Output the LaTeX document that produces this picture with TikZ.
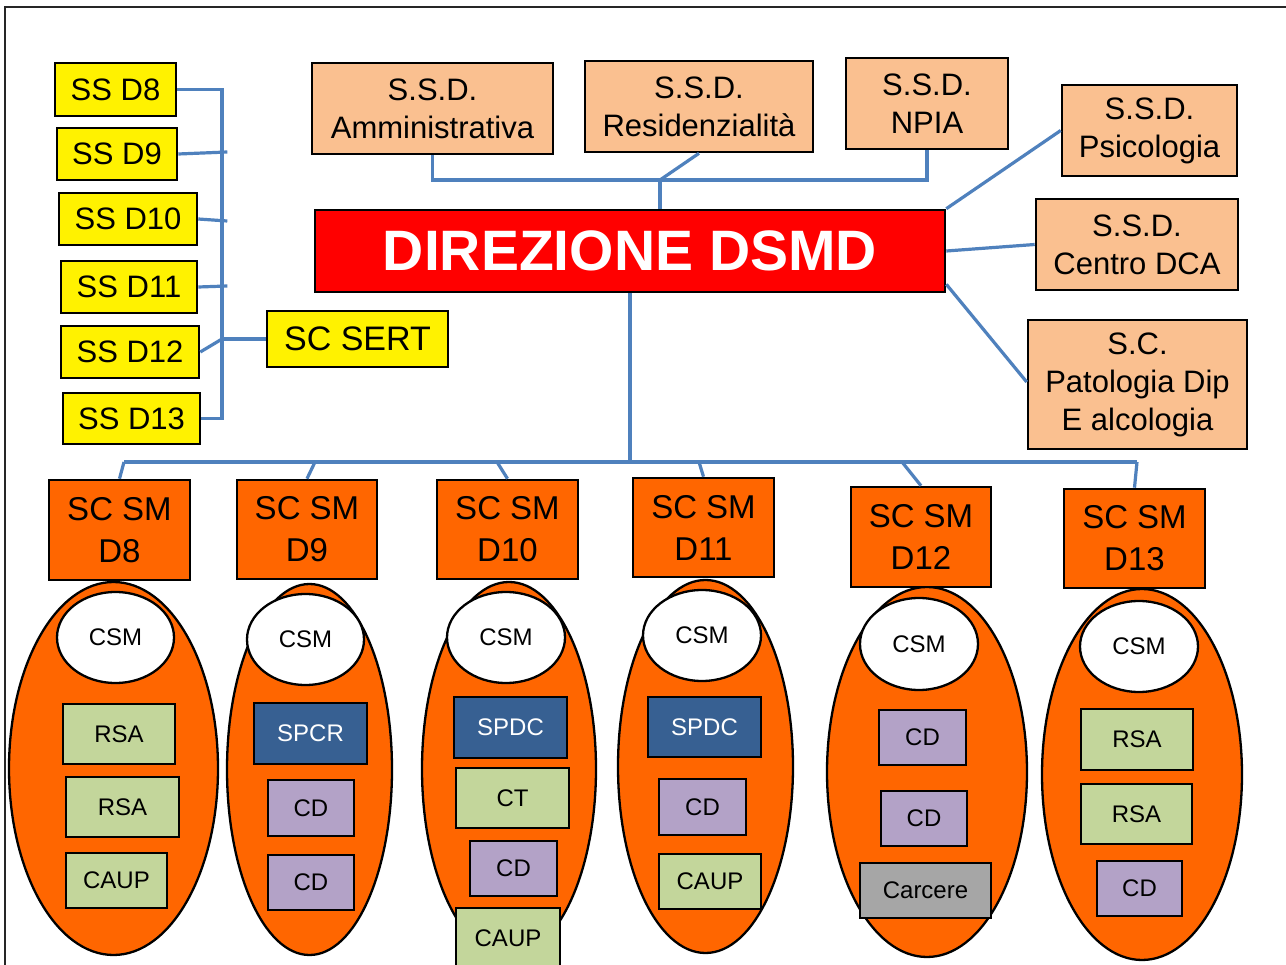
\documentclass[tikz,border=0pt]{standalone}
\usepackage{fontspec}
\setmainfont{Liberation Sans}
\usetikzlibrary{shapes.geometric}
\definecolor{peachc}{HTML}{FAC090}
\definecolor{orangec}{HTML}{FF6600}
\definecolor{greenc}{HTML}{C3D69B}
\definecolor{bluec}{HTML}{376092}
\definecolor{purplec}{HTML}{B3A2C7}
\definecolor{grayc}{HTML}{A6A6A6}
\definecolor{linkc}{HTML}{4F81BD}
\begin{document}
\begin{tikzpicture}[x=1pt,y=-1pt,
 bx/.style={draw=black, line width=2.6pt, inner sep=0pt, align=center},
 yel/.style={bx, fill=yellow, font=\fontsize{31}{36}\selectfont},
 peach/.style={bx, fill=peachc, font=\fontsize{31}{38}\selectfont},
 scsm/.style={bx, fill=orangec, font=\fontsize{33}{42}\selectfont},
 big/.style={ellipse, draw=black, line width=2.3pt, fill=orangec, inner sep=0pt},
 csm/.style={ellipse, draw=black, line width=2.3pt, fill=white, inner sep=0pt, font=\fontsize{24}{28}\selectfont},
 sm/.style={bx, line width=2.3pt, font=\fontsize{24}{28}\selectfont},
 grn/.style={sm, fill=greenc},
 blu/.style={sm, fill=bluec, text=white},
 pur/.style={sm, fill=purplec},
 gry/.style={sm, fill=grayc},
 link/.style={draw=linkc, line width=3.2pt},
 wh/.style 2 args={minimum width=#1pt, minimum height=#2pt}
]
\useasboundingbox (0,0) rectangle (1286,965);
\fill[white] (0,0) rectangle (1286,965);
\draw[line width=2pt, black!85] (5,965) -- (5,7) -- (1286,7);

% yellow SS boxes
\node[yel, wh={121}{53}] (d8) at (115.5,89.5) {SS D8};
\node[yel, wh={120}{52}] (d9) at (117,154) {SS D9};
\node[yel, wh={138}{52}] (d10) at (128,219) {SS D10};
\node[yel, wh={136}{52}] (d11) at (129,287) {SS D11};
\node[yel, wh={138}{52}] (d12) at (130,352) {SS D12};
\node[yel, wh={137}{51}] (d13) at (131.5,418.5) {SS D13};
\node[yel, wh={181}{56}, font=\fontsize{34}{40}\selectfont] (sert) at (357.5,339) {SC SERT};

% peach boxes
\node[peach, wh={241}{91}] (amm) at (432.5,108.5) {S.S.D.\\Amministrativa};
\node[peach, wh={228}{91}] (res) at (699,106.5) {S.S.D.\\Residenzialità};
\node[peach, wh={162}{91}] (npia) at (927,103.5) {S.S.D.\\NPIA};
\node[peach, wh={175}{91}] (psi) at (1149.5,130.5) {S.S.D.\\Psicologia};
\node[peach, wh={202}{91}] (dca) at (1137,244.5) {S.S.D.\\Centro DCA};
\node[peach, wh={219}{129}] (pat) at (1137.5,384.5) {S.C.\\Patologia Dip\\E alcologia};

% direzione
\node[bx, fill=red, text=white, wh={630}{82}, font=\fontsize{57}{60}\selectfont\bfseries] (dir) at (630,251) {DIREZIONE DSMD};

% big ellipses
\node[big, wh={209}{373}] (e8) at (113.5,768.5) {};
\node[big, wh={165}{371}] (e9) at (309.5,769.5) {};
\node[big, wh={174}{374}] (e10) at (509,769) {};
\node[big, wh={175}{373}] (e11) at (705.5,766.5) {};
\node[big, wh={200}{370}] (e12) at (927,772) {};
\node[big, wh={200}{371}] (e13) at (1142,774.5) {};

% SC SM boxes
\node[scsm, wh={141}{100}] (s8) at (119.5,530) {SC SM\\D8};
\node[scsm, wh={140}{99}] (s9) at (307,529.5) {SC SM\\D9};
\node[scsm, wh={141}{99}] (s10) at (507.5,529.5) {SC SM\\D10};
\node[scsm, wh={141}{99}] (s11) at (703.5,527.5) {SC SM\\D11};
\node[scsm, wh={140}{100}] (s12) at (921,537) {SC SM\\D12};
\node[scsm, wh={141}{99}] (s13) at (1134.5,538.5) {SC SM\\D13};

% CSM ellipses
\node[csm, wh={117}{91}] (c8) at (115.5,637.5) {CSM};
\node[csm, wh={117}{91}] (c9) at (305.5,639.5) {CSM};
\node[csm, wh={118}{91}] (c10) at (506,637.5) {CSM};
\node[csm, wh={118}{91}] (c11) at (702,635.5) {CSM};
\node[csm, wh={118}{92}] (c12) at (919,644) {CSM};
\node[csm, wh={118}{91}] (c13) at (1139,646.5) {CSM};

% D8 units
\node[grn, wh={112}{60}] (u81) at (119,734) {RSA};
\node[grn, wh={113}{60}] (u82) at (122.5,807) {RSA};
\node[grn, wh={101}{55}] (u83) at (116.5,880.5) {CAUP};
% D9 units
\node[blu, wh={113}{61}] (u91) at (310.5,733.5) {SPCR};
\node[pur, wh={86}{56}] (u92) at (311,808) {CD};
\node[pur, wh={86}{55}] (u93) at (311,882.5) {CD};
% D10 units
\node[blu, wh={113}{61}] (u101) at (510.5,727.5) {SPDC};
\node[grn, wh={113}{60}] (u102) at (512.5,798) {CT};
\node[pur, wh={87}{55}] (u103) at (513.5,868.5) {CD};
\node[grn, wh={104}{60}] (u104) at (508,938) {CAUP};
% D11 units
\node[blu, wh={113}{60}] (u111) at (704.5,727) {SPDC};
\node[pur, wh={87}{56}] (u112) at (702.5,807) {CD};
\node[grn, wh={102}{55}] (u113) at (710,881.5) {CAUP};
% D12 units
\node[pur, wh={87}{55}] (u121) at (922.5,737.5) {CD};
\node[pur, wh={86}{55}] (u122) at (924,818.5) {CD};
\node[gry, wh={131}{55}] (u123) at (925.5,890.5) {Carcere};
% D13 units
\node[grn, wh={112}{61}] (u131) at (1137,739.5) {RSA};
\node[grn, wh={111}{60}] (u132) at (1136.5,814) {RSA};
\node[pur, wh={85}{55}] (u133) at (1139.5,888.5) {CD};

% ---- connectors ----
% left SS bus
\coordinate (lt) at (222,89.5);
\coordinate (lj) at (222,339);
\coordinate (lb) at (222,418.5);
\draw[link] (d8.east) -- (lt) -- (lb) -- (d13.east);
\draw[link] (d9.east) -- ++(49,-2);
\draw[link] (d10.east) -- ++(29,2);
\draw[link] (d11.east) -- ++(29,-1);
\draw[link] (d12.east) -- (lj);
\draw[link] (lj) -- (sert.west);

% top bus
\coordinate (tb) at (660,180);
\draw[link] (amm.south) |- (tb) -| (npia.south);
\draw[link] (res.south) -- (tb);
\draw[link] (tb) -- (tb |- dir.north);

% right links
\draw[link] (dir.north east) -- (psi.west);
\draw[link] (dir.east) -- (dca.west);
\draw[link] ([yshift=9pt]dir.south east) -- ([yshift=2.5pt]pat.west);

% bottom bus
\coordinate (b8) at (124,462);
\coordinate (b9) at (315,462);
\coordinate (b10) at (497,462);
\coordinate (b11) at (699,462);
\coordinate (b12) at (902,462);
\coordinate (b13) at (1137,462);
\draw[link] (dir.south) -- (dir.south |- b8);
\draw[link] (b8) -- (b13);
\draw[link] (b8) -- (s8.north);
\draw[link] (b9) -- (s9.north);
\draw[link] (b10) -- (s10.north);
\draw[link] (b11) -- (s11.north);
\draw[link] (b12) -- (s12.north);
\draw[link] (b13) -- (s13.north);
\end{tikzpicture}
\end{document}
